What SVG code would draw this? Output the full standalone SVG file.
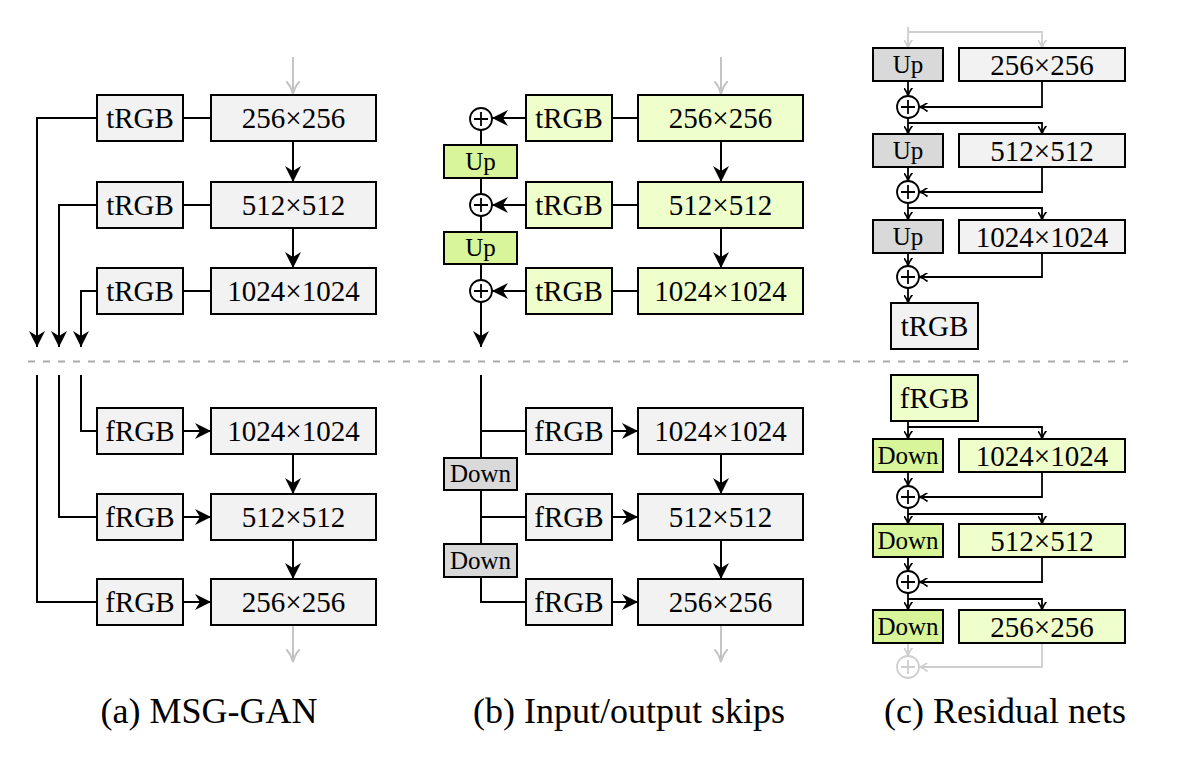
<svg xmlns="http://www.w3.org/2000/svg" width="1194" height="766" viewBox="0 0 1194 766" font-family="'Liberation Serif', 'Times New Roman', 'DejaVu Serif', serif">
<defs>
<style>
text{font-family:'Liberation Serif','Times New Roman','DejaVu Serif',serif;fill:#000;text-anchor:middle}
.t{font-size:29px}
.s{font-size:25px}
.cap{font-size:36px}
.g{fill:#f2f2f2;stroke:#000;stroke-width:2}
.dg{fill:#d9d9d9;stroke:#000;stroke-width:2}
.lg{fill:#efffcc;stroke:#000;stroke-width:2}
.bg{fill:#d8f59a;stroke:#000;stroke-width:2}
.ln{fill:none;stroke:#000;stroke-width:2}
.thin{fill:none;stroke:#000;stroke-width:1.8}
.gl{fill:none;stroke:#c4c4c4;stroke-width:2}
.circ{fill:#fff;stroke:#000;stroke-width:1.8}
.gcirc{fill:#fff;stroke:#cfcfcf;stroke-width:1.8}
</style>
<marker id="a" viewBox="0 0 16 16" markerWidth="16" markerHeight="16" refX="16" refY="8" orient="auto" markerUnits="userSpaceOnUse">
<path d="M0,0 L16,8 L0,16 L5,8 z" fill="#000"/>
</marker>
<marker id="ga" viewBox="0 0 14 14" markerWidth="14" markerHeight="14" refX="13" refY="7" orient="auto" markerUnits="userSpaceOnUse">
<path d="M0,0 Q5,5 13,7 Q5,9 0,14" fill="none" stroke="#c4c4c4" stroke-width="2"/>
</marker>
<marker id="sa" viewBox="0 0 9 9" markerWidth="9" markerHeight="9" refX="8.5" refY="4.5" orient="auto" markerUnits="userSpaceOnUse">
<path d="M0,0 Q4,3.5 8.5,4.5 Q4,5.5 0,9" fill="none" stroke="#000" stroke-width="1.6"/>
</marker>
<marker id="sga" viewBox="0 0 9 9" markerWidth="9" markerHeight="9" refX="8.5" refY="4.5" orient="auto" markerUnits="userSpaceOnUse">
<path d="M0,0 Q4,3.5 8.5,4.5 Q4,5.5 0,9" fill="none" stroke="#cfcfcf" stroke-width="1.6"/>
</marker>
</defs>
<rect width="1194" height="766" fill="#fff"/>

<!-- connectors -->
<g id="connectors">
<line x1="28" y1="361.5" x2="1128" y2="361.5" stroke="#aaa" stroke-width="2" stroke-dasharray="7 8"/>
<line class="gl" x1="293" y1="57" x2="293" y2="94" marker-end="url(#ga)"/>
<line class="ln" x1="293" y1="141" x2="293" y2="182" marker-end="url(#a)"/>
<line class="ln" x1="293" y1="228" x2="293" y2="268" marker-end="url(#a)"/>
<line class="ln" x1="183" y1="118" x2="211" y2="118"/>
<line class="ln" x1="183" y1="205" x2="211" y2="205"/>
<line class="ln" x1="183" y1="291" x2="211" y2="291"/>
<polyline class="ln" points="97,118 37,118 37,347" marker-end="url(#a)"/>
<polyline class="ln" points="97,205 59,205 59,347" marker-end="url(#a)"/>
<polyline class="ln" points="97,291 81,291 81,347" marker-end="url(#a)"/>
<polyline class="ln" points="81,375 81,431 97,431"/>
<polyline class="ln" points="59,375 59,517 97,517"/>
<polyline class="ln" points="37,375 37,602 97,602"/>
<line class="ln" x1="183" y1="431" x2="211" y2="431" marker-end="url(#a)"/>
<line class="ln" x1="183" y1="517" x2="211" y2="517" marker-end="url(#a)"/>
<line class="ln" x1="183" y1="602" x2="211" y2="602" marker-end="url(#a)"/>
<line class="ln" x1="293" y1="454" x2="293" y2="494" marker-end="url(#a)"/>
<line class="ln" x1="293" y1="540" x2="293" y2="579" marker-end="url(#a)"/>
<line class="gl" x1="293" y1="626" x2="293" y2="662" marker-end="url(#ga)"/>
<line class="gl" x1="721" y1="57" x2="721" y2="94" marker-end="url(#ga)"/>
<line class="ln" x1="721" y1="141" x2="721" y2="182" marker-end="url(#a)"/>
<line class="ln" x1="721" y1="228" x2="721" y2="268" marker-end="url(#a)"/>
<line class="ln" x1="612" y1="118" x2="638" y2="118"/>
<line class="ln" x1="612" y1="205" x2="638" y2="205"/>
<line class="ln" x1="612" y1="291" x2="638" y2="291"/>
<line class="ln" x1="526" y1="118" x2="492" y2="118" marker-end="url(#a)"/>
<line class="ln" x1="526" y1="205" x2="492" y2="205" marker-end="url(#a)"/>
<line class="ln" x1="526" y1="291" x2="492" y2="291" marker-end="url(#a)"/>
<line class="ln" x1="481" y1="130" x2="481" y2="145"/>
<line class="ln" x1="481" y1="178" x2="481" y2="194"/>
<line class="ln" x1="481" y1="216" x2="481" y2="232"/>
<line class="ln" x1="481" y1="264" x2="481" y2="280"/>
<line class="ln" x1="481" y1="302" x2="481" y2="347" marker-end="url(#a)"/>
<line class="ln" x1="481" y1="375" x2="481" y2="458"/>
<line class="ln" x1="481" y1="431" x2="526" y2="431"/>
<line class="ln" x1="481" y1="490" x2="481" y2="544"/>
<line class="ln" x1="481" y1="517" x2="526" y2="517"/>
<polyline class="ln" points="481,577 481,602 526,602"/>
<line class="ln" x1="612" y1="431" x2="638" y2="431" marker-end="url(#a)"/>
<line class="ln" x1="612" y1="517" x2="638" y2="517" marker-end="url(#a)"/>
<line class="ln" x1="612" y1="602" x2="638" y2="602" marker-end="url(#a)"/>
<line class="ln" x1="721" y1="454" x2="721" y2="494" marker-end="url(#a)"/>
<line class="ln" x1="721" y1="540" x2="721" y2="579" marker-end="url(#a)"/>
<line class="gl" x1="721" y1="626" x2="721" y2="662" marker-end="url(#ga)"/>
<line x1="908" y1="27" x2="908" y2="48" fill="none" stroke="#cfcfcf" stroke-width="1.8" marker-end="url(#sga)"/>
<polyline points="908,32 1042,32 1042,48" fill="none" stroke="#cfcfcf" stroke-width="1.8" marker-end="url(#sga)"/>
<line class="thin" x1="908" y1="81" x2="908" y2="96" marker-end="url(#sa)"/>
<polyline class="thin" points="1042,81 1042,107 919,107" marker-end="url(#sa)"/>
<line class="thin" x1="908" y1="118" x2="908" y2="134" marker-end="url(#sa)"/>
<polyline class="thin" points="908,123 1042,123 1042,134" marker-end="url(#sa)"/>
<line class="thin" x1="908" y1="167" x2="908" y2="181" marker-end="url(#sa)"/>
<polyline class="thin" points="1042,167 1042,192 919,192" marker-end="url(#sa)"/>
<line class="thin" x1="908" y1="203" x2="908" y2="220" marker-end="url(#sa)"/>
<polyline class="thin" points="908,208 1042,208 1042,220" marker-end="url(#sa)"/>
<line class="thin" x1="908" y1="253" x2="908" y2="266" marker-end="url(#sa)"/>
<polyline class="thin" points="1042,253 1042,277 919,277" marker-end="url(#sa)"/>
<line class="thin" x1="908" y1="288" x2="908" y2="303" marker-end="url(#sa)"/>
<line class="thin" x1="908" y1="421" x2="908" y2="439" marker-end="url(#sa)"/>
<polyline class="thin" points="908,427 1042,427 1042,439" marker-end="url(#sa)"/>
<line class="thin" x1="908" y1="472" x2="908" y2="486" marker-end="url(#sa)"/>
<polyline class="thin" points="1042,472 1042,497 919,497" marker-end="url(#sa)"/>
<line class="thin" x1="908" y1="508" x2="908" y2="524" marker-end="url(#sa)"/>
<polyline class="thin" points="908,514 1042,514 1042,524" marker-end="url(#sa)"/>
<line class="thin" x1="908" y1="557" x2="908" y2="571" marker-end="url(#sa)"/>
<polyline class="thin" points="1042,557 1042,582 919,582" marker-end="url(#sa)"/>
<line class="thin" x1="908" y1="593" x2="908" y2="610" marker-end="url(#sa)"/>
<polyline class="thin" points="908,599 1042,599 1042,610" marker-end="url(#sa)"/>
<line x1="908" y1="643" x2="908" y2="656" fill="none" stroke="#cfcfcf" stroke-width="1.8" marker-end="url(#sga)"/>
<polyline points="1042,643 1042,667 919,667" fill="none" stroke="#cfcfcf" stroke-width="1.8" marker-end="url(#sga)"/>
</g>

<g id="a-t1"><rect class="g" x="97" y="95" width="86" height="46"/><text class="t" x="140" y="128">tRGB</text></g>
<g id="a-r256"><rect class="g" x="211" y="95" width="165" height="46"/><text class="t" x="293.5" y="128">256×256</text></g>
<g id="a-t2"><rect class="g" x="97" y="182" width="86" height="46"/><text class="t" x="140" y="215">tRGB</text></g>
<g id="a-r512"><rect class="g" x="211" y="182" width="165" height="46"/><text class="t" x="293.5" y="215">512×512</text></g>
<g id="a-t3"><rect class="g" x="97" y="268" width="86" height="46"/><text class="t" x="140" y="301">tRGB</text></g>
<g id="a-r1024"><rect class="g" x="211" y="268" width="165" height="46"/><text class="t" x="293.5" y="301">1024×1024</text></g>
<g id="a-f1"><rect class="g" x="97" y="408" width="86" height="46"/><text class="t" x="140" y="441">fRGB</text></g>
<g id="a-d1024"><rect class="g" x="211" y="408" width="165" height="46"/><text class="t" x="293.5" y="441">1024×1024</text></g>
<g id="a-f2"><rect class="g" x="97" y="494" width="86" height="46"/><text class="t" x="140" y="527">fRGB</text></g>
<g id="a-d512"><rect class="g" x="211" y="494" width="165" height="46"/><text class="t" x="293.5" y="527">512×512</text></g>
<g id="a-f3"><rect class="g" x="97" y="579" width="86" height="46"/><text class="t" x="140" y="612">fRGB</text></g>
<g id="a-d256"><rect class="g" x="211" y="579" width="165" height="46"/><text class="t" x="293.5" y="612">256×256</text></g>

<g id="b-t1"><rect class="lg" x="526" y="95" width="86" height="46"/><text class="t" x="569" y="128">tRGB</text></g>
<g id="b-r256"><rect class="lg" x="638" y="95" width="165" height="46"/><text class="t" x="720.5" y="128">256×256</text></g>
<g id="b-t2"><rect class="lg" x="526" y="182" width="86" height="46"/><text class="t" x="569" y="215">tRGB</text></g>
<g id="b-r512"><rect class="lg" x="638" y="182" width="165" height="46"/><text class="t" x="720.5" y="215">512×512</text></g>
<g id="b-t3"><rect class="lg" x="526" y="268" width="86" height="46"/><text class="t" x="569" y="301">tRGB</text></g>
<g id="b-r1024"><rect class="lg" x="638" y="268" width="165" height="46"/><text class="t" x="720.5" y="301">1024×1024</text></g>
<g id="b-p1"><circle class="circ" cx="481" cy="119" r="11"/><path class="thin" d="M474,119 H488 M481,112 V126"/></g>
<g id="b-p2"><circle class="circ" cx="481" cy="205" r="11"/><path class="thin" d="M474,205 H488 M481,198 V212"/></g>
<g id="b-p3"><circle class="circ" cx="481" cy="291" r="11"/><path class="thin" d="M474,291 H488 M481,284 V298"/></g>
<g id="b-up1"><rect class="bg" x="444" y="145" width="73" height="33"/><text class="s" x="480.5" y="170">Up</text></g>
<g id="b-up2"><rect class="bg" x="444" y="232" width="73" height="32"/><text class="s" x="480.5" y="256">Up</text></g>
<g id="b-f1"><rect class="g" x="526" y="408" width="86" height="46"/><text class="t" x="569" y="441">fRGB</text></g>
<g id="b-d1024"><rect class="g" x="638" y="408" width="165" height="46"/><text class="t" x="720.5" y="441">1024×1024</text></g>
<g id="b-f2"><rect class="g" x="526" y="494" width="86" height="46"/><text class="t" x="569" y="527">fRGB</text></g>
<g id="b-d512"><rect class="g" x="638" y="494" width="165" height="46"/><text class="t" x="720.5" y="527">512×512</text></g>
<g id="b-f3"><rect class="g" x="526" y="579" width="86" height="46"/><text class="t" x="569" y="612">fRGB</text></g>
<g id="b-d256"><rect class="g" x="638" y="579" width="165" height="46"/><text class="t" x="720.5" y="612">256×256</text></g>
<g id="b-down1"><rect class="dg" x="444" y="458" width="73" height="32"/><text class="s" x="480.5" y="482">Down</text></g>
<g id="b-down2"><rect class="dg" x="444" y="544" width="73" height="33"/><text class="s" x="480.5" y="569">Down</text></g>

<g id="c-up1"><rect class="dg" x="873" y="48" width="70" height="33"/><text class="s" x="908" y="73">Up</text></g>
<g id="c-r256"><rect class="g" x="959" y="48" width="166" height="33"/><text class="t" x="1042" y="74.5">256×256</text></g>
<g id="c-p1"><circle class="circ" cx="908" cy="107" r="11"/><path class="thin" d="M901,107 H915 M908,100 V114"/></g>
<g id="c-up2"><rect class="dg" x="873" y="134" width="70" height="33"/><text class="s" x="908" y="159">Up</text></g>
<g id="c-r512"><rect class="g" x="959" y="134" width="166" height="33"/><text class="t" x="1042" y="160.5">512×512</text></g>
<g id="c-p2"><circle class="circ" cx="908" cy="192" r="11"/><path class="thin" d="M901,192 H915 M908,185 V199"/></g>
<g id="c-up3"><rect class="dg" x="873" y="220" width="70" height="33"/><text class="s" x="908" y="245">Up</text></g>
<g id="c-r1024"><rect class="g" x="959" y="220" width="166" height="33"/><text class="t" x="1042" y="246.5">1024×1024</text></g>
<g id="c-p3"><circle class="circ" cx="908" cy="277" r="11"/><path class="thin" d="M901,277 H915 M908,270 V284"/></g>
<g id="c-trgb"><rect class="g" x="891" y="303" width="87" height="46"/><text class="t" x="934.5" y="336">tRGB</text></g>
<g id="c-frgb"><rect class="lg" x="891" y="375" width="87" height="46"/><text class="t" x="934.5" y="408">fRGB</text></g>
<g id="c-down1"><rect class="bg" x="873" y="439" width="70" height="33"/><text class="s" x="908" y="464">Down</text></g>
<g id="c-d1024"><rect class="lg" x="959" y="439" width="166" height="33"/><text class="t" x="1042" y="465.5">1024×1024</text></g>
<g id="c-q1"><circle class="circ" cx="908" cy="497" r="11"/><path class="thin" d="M901,497 H915 M908,490 V504"/></g>
<g id="c-down2"><rect class="bg" x="873" y="524" width="70" height="33"/><text class="s" x="908" y="549">Down</text></g>
<g id="c-d512"><rect class="lg" x="959" y="524" width="166" height="33"/><text class="t" x="1042" y="550.5">512×512</text></g>
<g id="c-q2"><circle class="circ" cx="908" cy="582" r="11"/><path class="thin" d="M901,582 H915 M908,575 V589"/></g>
<g id="c-down3"><rect class="bg" x="873" y="610" width="70" height="33"/><text class="s" x="908" y="635">Down</text></g>
<g id="c-d256"><rect class="lg" x="959" y="610" width="166" height="33"/><text class="t" x="1042" y="636.5">256×256</text></g>
<g id="c-q3"><circle class="gcirc" cx="908" cy="667" r="11"/><path d="M901,667 H915 M908,660 V674" fill="none" stroke="#cfcfcf" stroke-width="1.8"/></g>

<g id="captions">
<text class="cap" x="209" y="723">(a) MSG-GAN</text>
<text class="cap" x="629" y="723">(b) Input/output skips</text>
<text class="cap" x="1005" y="723">(c) Residual nets</text>
</g>
</svg>
